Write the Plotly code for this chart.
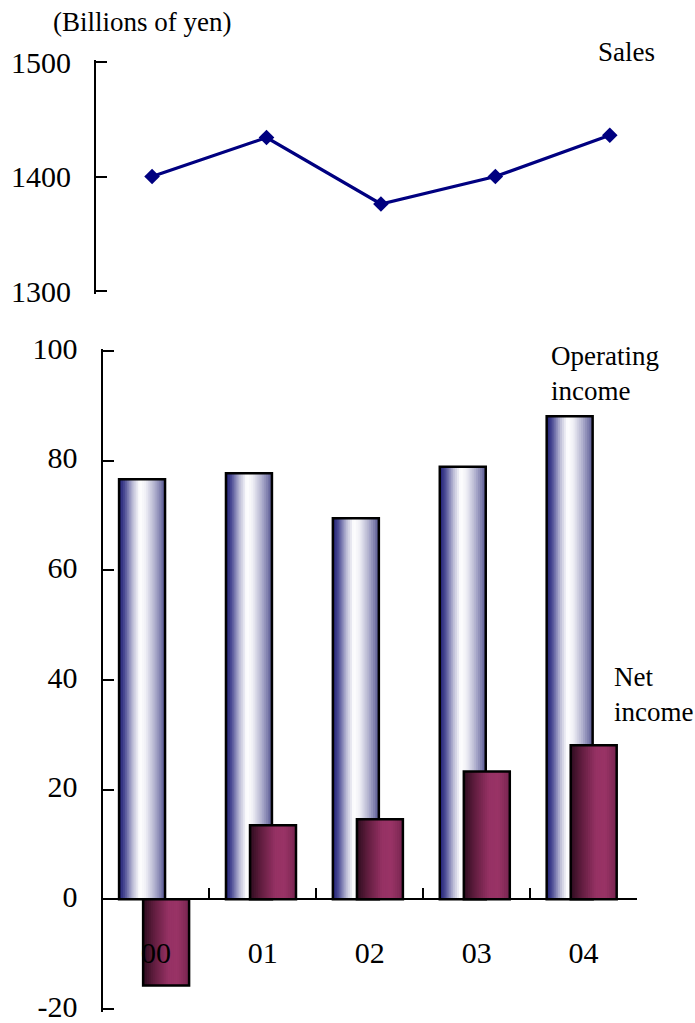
import plotly.graph_objects as go

# ---- data (billions of yen) ----
years = ["00", "01", "02", "03", "04"]
sales = [1400, 1434, 1376, 1400, 1436]
operating_income = [76.6, 77.7, 69.5, 78.9, 88.1]
net_income = [-15.7, 13.5, 14.6, 23.3, 28.1]
sales_ticks = [1300, 1400, 1500]
income_ticks = [-20, 0, 20, 40, 60, 80, 100]

W, H = 695, 1023
FONT = "Liberation Serif, Times New Roman, serif"


def fx(px):
    return px / W


def fy(px):
    return 1 - px / H


def lerp_color(stops, t):
    """Piecewise-linear colour ramp; stops = [(pos, (r,g,b)), ...]."""
    for (p0, c0), (p1, c1) in zip(stops[:-1], stops[1:]):
        if p0 <= t <= p1:
            u = 0 if p1 == p0 else (t - p0) / (p1 - p0)
            r, g, b = (round(a + (b_ - a) * u) for a, b_ in zip(c0, c1))
            return f"rgb({r},{g},{b})"
    r, g, b = stops[-1][1]
    return f"rgb({r},{g},{b})"


def padded(lo, hi, top_px, bot_px, pad=2.5):
    """Axis range/domain grown by a few pixels so the end ticks are kept."""
    per_px = (hi - lo) / (bot_px - top_px)
    rng = [lo - pad * per_px, hi + pad * per_px]
    dom = [fy(bot_px + pad), fy(top_px - pad)]
    return rng, dom


# horizontal shading across each column
op_stops = [(0.0, (30, 30, 115)), (0.12, (75, 75, 148)), (0.30, (190, 190, 215)),
            (0.45, (255, 255, 255)), (0.58, (240, 240, 246)), (0.78, (175, 175, 205)),
            (1.0, (90, 90, 148))]
net_stops = [(0.0, (45, 12, 30)), (0.25, (100, 30, 65)), (0.55, (150, 50, 100)),
             (0.75, (153, 51, 102)), (1.0, (120, 38, 80))]

BAR_W = 0.43
OP_OFF = -0.345
NET_OFF = -0.12
N = 24

fig = go.Figure()

# sales line (top panel)
fig.add_trace(go.Scatter(
    x=years, y=sales, mode="lines+markers",
    line=dict(color="#000080", width=3.2),
    marker=dict(symbol="diamond", size=12, color="#000080"),
    xaxis="x", yaxis="y", showlegend=False, hoverinfo="skip",
))


def shaded_bars(values, offset, stops):
    step = BAR_W / N
    for i in range(N):
        t = (i + 0.5) / N
        fig.add_trace(go.Bar(
            x=years, y=values, offset=offset + i * step, width=BAR_W - i * step,
            marker=dict(color=lerp_color(stops, t), line=dict(width=0)),
            xaxis="x2", yaxis="y2", showlegend=False, hoverinfo="skip",
        ))
    # outline
    fig.add_trace(go.Bar(
        x=years, y=values, offset=offset, width=BAR_W,
        marker=dict(color="rgba(0,0,0,0)", line=dict(color="black", width=2.5)),
        xaxis="x2", yaxis="y2", showlegend=False, hoverinfo="skip",
    ))


shaded_bars(operating_income, OP_OFF, op_stops)
shaded_bars(net_income, NET_OFF, net_stops)

y1_rng, y1_dom = padded(sales_ticks[0], sales_ticks[-1], 62, 291)
y2_rng, y2_dom = padded(income_ticks[0], income_ticks[-1], 351, 1009)
zero_pos = y2_dom[0] + (0 - y2_rng[0]) / (y2_rng[1] - y2_rng[0]) * (y2_dom[1] - y2_dom[0])

axis_common = dict(showgrid=False, zeroline=False, showline=True, linecolor="black",
                   ticks="inside", tickcolor="black", automargin=False,
                   ticklabeloverflow="allow")
tick_font = dict(size=30, family=FONT, color="black")
note_font = dict(size=27, family=FONT, color="black")

fig.update_layout(
    width=W, height=H,
    margin=dict(l=0, r=0, t=0, b=0, autoexpand=False),
    paper_bgcolor="white", plot_bgcolor="white",
    font=dict(family=FONT, color="black"),
    barmode="overlay",
    xaxis=dict(domain=[fx(96), fx(667)], range=[-0.49, 4.5], visible=False,
               anchor="y", type="category"),
    yaxis=dict(domain=y1_dom, range=y1_rng,
               tickvals=sales_ticks, ticktext=[str(v) for v in sales_ticks],
               ticklen=11, tickwidth=2, linewidth=2,
               tickfont=tick_font, ticklabelstandoff=17,
               anchor="x", **axis_common),
    xaxis2=dict(domain=[fx(102.5), fx(637)], range=[-0.5, 4.5], type="category",
                anchor="free", position=zero_pos, tickson="boundaries",
                ticklen=11, tickwidth=1.5, linewidth=1.5,
                tickfont=tick_font, ticklabelstandoff=27,
                **axis_common),
    yaxis2=dict(domain=y2_dom, range=y2_rng,
                tickvals=income_ticks, ticktext=[str(v) for v in income_ticks],
                ticklen=11, tickwidth=2, linewidth=2,
                tickfont=tick_font, ticklabelstandoff=17, ticklabelshift=-3,
                anchor="x2", **axis_common),
    annotations=[
        dict(text="(Billions of yen)", x=fx(142), y=fy(22)),
        dict(text="Sales", x=fx(626), y=fy(52)),
        dict(text="Operating<br>income", x=fx(549), y=fy(373), xanchor="left"),
        dict(text="Net<br>income", x=fx(612), y=fy(694), xanchor="left"),
    ],
)
fig.update_annotations(xref="paper", yref="paper", showarrow=False, align="left",
                       yanchor="middle", font=note_font)
for a in fig.layout.annotations:
    if a.xanchor is None:
        a.xanchor = "center"

fig.write_html("out.html")
